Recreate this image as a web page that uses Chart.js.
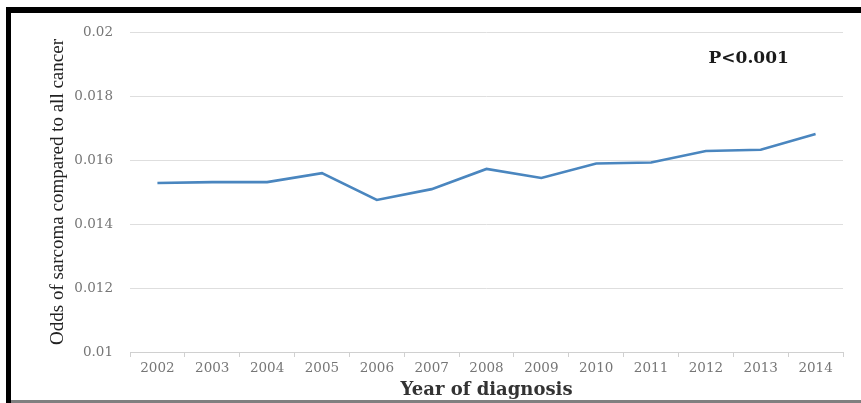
<!DOCTYPE html>
<html>
<head>
<meta charset="utf-8">
<script src="https://cdn.jsdelivr.net/npm/chart.js@4.4.1/dist/chart.umd.min.js"></script>
<style>
  html, body { margin: 0; padding: 0; background: #ffffff; }
  #wrap { position: relative; width: 861px; height: 403px; overflow: hidden; }
  canvas { position: absolute; left: 0; top: 0; }
  .bar { position: absolute; }
</style>
</head>
<body>
<div id="wrap">
  <canvas id="c" width="861" height="403"></canvas>
  <div class="bar" style="left:6px;top:7px;width:855px;height:6px;background:#000;"></div>
  <div class="bar" style="left:6px;top:7px;width:5px;height:396px;background:#000;"></div>
  <div class="bar" style="left:11px;top:400px;width:850px;height:3px;background:#808080;"></div>
</div>
<script>
const years = ['2002','2003','2004','2005','2006','2007','2008','2009','2010','2011','2012','2013','2014'];
const oddsValues = [0.01528, 0.01531, 0.01531, 0.01559, 0.01475, 0.01509, 0.01572, 0.01544, 0.01589, 0.01592, 0.01628, 0.01632, 0.01681];
const yTickValues = [0.01, 0.012, 0.014, 0.016, 0.018, 0.02];
const yTickLabels = ['0.01', '0.012', '0.014', '0.016', '0.018', '0.02'];
const pValueText = 'P<0.001';
const xTitle = 'Year of diagnosis';
const yTitle = 'Odds of sarcoma compared to all cancer';

const pLabel = {
  id: 'pLabel',
  afterDraw(chart) {
    const ctx = chart.ctx;
    const xs = chart.scales.x, ys = chart.scales.y;
    ctx.save();
    ctx.font = 'bold 17px "DejaVu Serif"';
    ctx.fillStyle = '#1a1a1a';
    ctx.textAlign = 'center';
    ctx.textBaseline = 'middle';
    ctx.fillText(pValueText, xs.getPixelForValue(10.78), ys.getPixelForValue(0.01918));
    ctx.restore();
  }
};

new Chart(document.getElementById('c'), {
  type: 'line',
  data: {
    labels: years,
    datasets: [{
      data: oddsValues,
      borderColor: '#4a86bf',
      borderWidth: 2.6,
      pointRadius: 0,
      tension: 0,
      fill: false
    }]
  },
  options: {
    responsive: false,
    animation: false,
    events: [],
    layout: { padding: { left: 0, right: 18, top: 32, bottom: 0 } },
    plugins: { legend: { display: false }, tooltip: { enabled: false } },
    scales: {
      x: {
        offset: true,
        grid: { offset: true, drawOnChartArea: false, drawTicks: true, tickLength: 5, color: '#d0d0d0' },
        border: { display: true, color: '#d0d0d0', width: 1 },
        ticks: { color: '#767676', font: { family: '"DejaVu Serif"', size: 13.5 }, padding: 3, maxRotation: 0, autoSkip: false },
        title: { display: true, text: xTitle, color: '#333333', font: { family: '"DejaVu Serif"', size: 18, weight: 'bold' }, padding: { top: 0, bottom: 2 } },
        afterFit(s) { s.height = 51; }
      },
      y: {
        min: 0.01,
        max: 0.02,
        afterBuildTicks(s) { s.ticks = yTickValues.map(v => ({ value: v })); },
        grid: { color: '#dedede', drawTicks: false, lineWidth: 1 },
        border: { display: false },
        ticks: {
          color: '#767676',
          font: { family: '"DejaVu Serif"', size: 13.5 },
          padding: 17,
          callback(v) { const i = yTickValues.findIndex(t => Math.abs(t - v) < 1e-9); return i >= 0 ? yTickLabels[i] : ''; }
        },
        title: { display: true, text: yTitle, color: '#222222', font: { family: '"Liberation Serif"', size: 19 }, padding: { top: 47, bottom: 0 } },
        afterFit(s) { s.width = 130; }
      }
    }
  },
  plugins: [pLabel]
});
</script>
</body>
</html>
